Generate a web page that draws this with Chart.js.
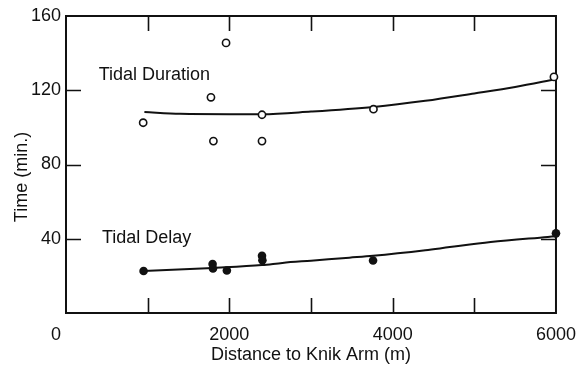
<!DOCTYPE html>
<html>
<head>
<meta charset="utf-8">
<script src="https://cdn.jsdelivr.net/npm/chart.js@4/dist/chart.umd.min.js"></script>
<style>
  html, body { margin: 0; padding: 0; background: #fff; }
  #wrap { width: 587px; height: 368px; position: relative; }
</style>
</head>
<body>
<div id="wrap"><canvas id="c" width="587" height="368"></canvas></div>
<script>
// ---- data ----
const durationX = [945, 1775, 1805, 1960, 2400, 2400, 3765, 5975];
const durationY = [102.5, 116.2, 92.6, 145.5, 106.8, 92.6, 109.8, 127.2];

const delayX = [950, 1795, 1800, 1970, 2400, 2405, 3760, 6000];
const delayY = [22.6, 26.4, 24.0, 22.9, 30.8, 28.4, 28.3, 42.9];

const durationFitX = [960, 1400, 2000, 2400, 3000, 3765, 4400, 5000, 5500, 6000];
const durationFitY = [108.3, 107.3, 107.1, 107.1, 108.5, 111.0, 114.3, 118.3, 121.8, 126.0];

const delayFitX = [950, 1800, 2400, 2650, 3000, 3470, 3760, 4400, 4700, 5200, 5900, 6000];
const delayFitY = [22.6, 24.3, 25.8, 27.0, 28.2, 29.8, 30.8, 33.8, 35.5, 38.2, 41.0, 41.4];

const xTickValues = [0, 2000, 4000, 6000];
const xTickLabels = ["0    ", "2000", "4000", "6000"];
const xMinorTicks = [1000, 2000, 3000, 4000, 5000];
const yTickValues = [40, 80, 120, 160];
const yInnerTicks = [40, 80, 120];

const annotationTexts = ["Tidal Duration", "Tidal Delay"];
const annotationX = [400, 440];
const annotationY = [125.4, 37.5];

const xTitle = "Distance to Knik Arm (m)";
const yTitle = "Time (min.)     ";

// ---- build chart ----
const FONT = '"Liberation Sans", Arial, Helvetica, sans-serif';
const INK = '#111';
const pts = (xs, ys) => xs.map((x, i) => ({ x: x, y: ys[i] }));

const framePlugin = {
  id: 'frame',
  beforeDatasetsDraw(chart) {
    const { ctx, chartArea: a, scales: { x, y } } = chart;
    const tl = 15;
    ctx.save();
    ctx.strokeStyle = INK;
    ctx.lineWidth = 2;
    ctx.strokeRect(a.left, a.top, a.right - a.left, a.bottom - a.top);
    ctx.lineWidth = 1.6;
    ctx.beginPath();
    xMinorTicks.forEach(v => {
      const px = Math.round(x.getPixelForValue(v)) + 0.5;
      ctx.moveTo(px, a.bottom); ctx.lineTo(px, a.bottom - tl);
      ctx.moveTo(px, a.top); ctx.lineTo(px, a.top + tl);
    });
    yInnerTicks.forEach(v => {
      const py = Math.round(y.getPixelForValue(v)) + 0.5;
      ctx.moveTo(a.left, py); ctx.lineTo(a.left + tl, py);
      ctx.moveTo(a.right, py); ctx.lineTo(a.right - tl, py);
    });
    ctx.stroke();
    ctx.restore();
  },
  afterDraw(chart) {
    const { ctx, scales: { x, y } } = chart;
    ctx.save();
    ctx.fillStyle = INK;
    ctx.font = '18px ' + FONT;
    ctx.textAlign = 'left';
    ctx.textBaseline = 'alphabetic';
    annotationTexts.forEach((t, i) => {
      ctx.fillText(t, x.getPixelForValue(annotationX[i]), y.getPixelForValue(annotationY[i]));
    });
    ctx.restore();
  }
};

new Chart(document.getElementById('c'), {
  type: 'scatter',
  data: {
    datasets: [
      {
        label: 'Tidal Duration',
        data: pts(durationX, durationY),
        pointRadius: 3.6,
        pointBorderWidth: 1.6,
        pointBackgroundColor: '#fff',
        pointBorderColor: INK,
        showLine: false,
        clip: false
      },
      {
        label: 'Tidal Delay',
        data: pts(delayX, delayY),
        pointRadius: 4.3,
        pointBorderWidth: 0,
        pointBackgroundColor: INK,
        pointBorderColor: INK,
        showLine: false,
        clip: false
      },
      {
        label: 'Duration fit',
        data: pts(durationFitX, durationFitY),
        showLine: true,
        borderColor: INK,
        borderWidth: 2,
        pointRadius: 0,
        cubicInterpolationMode: 'monotone',
        fill: false
      },
      {
        label: 'Delay fit',
        data: pts(delayFitX, delayFitY),
        showLine: true,
        borderColor: INK,
        borderWidth: 2,
        pointRadius: 0,
        cubicInterpolationMode: 'monotone',
        fill: false
      }
    ]
  },
  options: {
    responsive: false,
    animation: false,
    devicePixelRatio: 1,
    layout: { padding: { top: 16, right: 31, left: 0, bottom: 0 } },
    plugins: { legend: { display: false }, tooltip: { enabled: false } },
    scales: {
      x: {
        type: 'linear',
        min: 0,
        max: 6000,
        afterFit(s) { s.height = 55; },
        afterBuildTicks(s) { s.ticks = xTickValues.map(v => ({ value: v })); },
        grid: { display: false, drawTicks: false },
        border: { display: false },
        ticks: {
          padding: 11,
          color: INK,
          font: { family: FONT, size: 18 },
          maxRotation: 0,
          autoSkip: false,
          callback: (v) => { const i = xTickValues.indexOf(v); return i >= 0 ? xTickLabels[i] : ''; }
        },
        title: {
          display: true,
          text: xTitle,
          color: INK,
          font: { family: FONT, size: 18 },
          padding: { top: 0, bottom: 2 }
        }
      },
      y: {
        type: 'linear',
        min: 0,
        max: 160,
        afterFit(s) { s.width = 66; },
        afterBuildTicks(s) { s.ticks = yTickValues.map(v => ({ value: v })); },
        grid: { display: false, drawTicks: false },
        border: { display: false },
        ticks: {
          padding: 5,
          color: INK,
          font: { family: FONT, size: 18 },
          autoSkip: false,
          callback: (v) => String(v)
        },
        title: {
          display: true,
          text: yTitle,
          color: INK,
          font: { family: FONT, size: 18 },
          padding: { top: 11, bottom: 0 }
        }
      }
    }
  },
  plugins: [framePlugin]
});
</script>
</body>
</html>
